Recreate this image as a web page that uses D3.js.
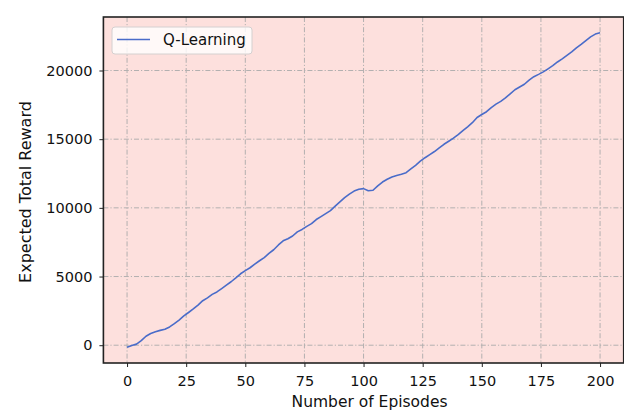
<!DOCTYPE html>
<html>
<head>
<meta charset="utf-8">
<script src="https://cdn.jsdelivr.net/npm/d3@7"></script>
<style>
  html, body { margin: 0; padding: 0; background: #ffffff; }
  svg { display: block; }
  text { font-family: "DejaVu Sans", sans-serif; fill: #111; }
</style>
</head>
<body>
<div id="chart"></div>
<script>
// Cumulative expected reward of a Q-Learning agent, sampled every 2 episodes
const episodes = d3.range(0, 201, 2);
const rewards = [
  -150, -20, 80, 330, 650, 850, 980, 1080, 1160, 1330,
  1570, 1830, 2130, 2380, 2640, 2920, 3240, 3450, 3700, 3880,
  4120, 4370, 4620, 4900, 5200, 5430, 5640, 5900, 6150, 6380,
  6680, 6950, 7300, 7600, 7750, 7950, 8250, 8430, 8650, 8850,
  9150, 9360, 9580, 9800, 10120, 10430, 10740, 11000, 11220, 11350,
  11400, 11250, 11280, 11600, 11880, 12080, 12250, 12360, 12450, 12560,
  12830, 13100, 13400, 13650, 13880, 14100, 14360, 14630, 14850, 15080,
  15330, 15620, 15900, 16200, 16580, 16800, 17000, 17300, 17550, 17750,
  18000, 18300, 18600, 18800, 19000, 19300, 19550, 19720, 19900, 20120,
  20350, 20620, 20850, 21100, 21350, 21640, 21900, 22180, 22450, 22650,
  22750
];
const xTicks = [0, 25, 50, 75, 100, 125, 150, 175, 200];
const yTicks = [0, 5000, 10000, 15000, 20000];
const seriesName = "Q-Learning";
const xTitle = "Number of Episodes";
const yTitle = "Expected Total Reward";

const W = 624, H = 411;
const margin = { left: 103.4, right: 0.3, top: 17, bottom: 48 };
const iw = W - margin.left - margin.right;
const ih = H - margin.top - margin.bottom;

// 5% padding around the data extent on both axes
function padded(ext) {
  const span = ext[1] - ext[0];
  return [ext[0] - span * 0.05, ext[1] + span * 0.05];
}

const data = episodes.map((e, i) => ({ e, r: rewards[i] }));
const x = d3.scaleLinear().domain(padded(d3.extent(episodes))).range([0, iw]);
const y = d3.scaleLinear().domain(padded(d3.extent(rewards))).range([ih, 0]);

const svg = d3.select("#chart").append("svg")
  .attr("width", W).attr("height", H);

const g = svg.append("g").attr("transform", `translate(${margin.left},${margin.top})`);

// plot background
g.append("rect").attr("width", iw).attr("height", ih).attr("fill", "#fde0dd");

// dash-dot grid
const grid = g.append("g").attr("stroke", "#b3b0b0").attr("stroke-width", 1)
  .attr("stroke-dasharray", "5,2,1.2,2");
grid.selectAll(".gx").data(xTicks).join("line")
  .attr("x1", d => x(d)).attr("x2", d => x(d)).attr("y1", 0).attr("y2", ih);
grid.selectAll(".gy").data(yTicks).join("line")
  .attr("y1", d => y(d)).attr("y2", d => y(d)).attr("x1", 0).attr("x2", iw);

// series
const line = d3.line().x(d => x(d.e)).y(d => y(d.r));
g.append("path").datum(data)
  .attr("fill", "none").attr("stroke", "#4a6cc9").attr("stroke-width", 1.6)
  .attr("stroke-linejoin", "round").attr("d", line);

// axes
const xAxis = g.append("g").attr("transform", `translate(0,${ih})`)
  .call(d3.axisBottom(x).tickValues(xTicks).tickSize(4).tickPadding(9).tickFormat(d3.format("d")));
const yAxis = g.append("g")
  .call(d3.axisLeft(y).tickValues(yTicks).tickSize(4).tickPadding(7).tickFormat(d3.format("d")));
[xAxis, yAxis].forEach(a => {
  a.select(".domain").remove();
  a.selectAll(".tick line").attr("stroke", "#222").attr("stroke-width", 1);
  a.selectAll(".tick text").style("font-size", "14.5px").style("font-family", "DejaVu Sans").attr("fill", "#222");
});

// frame
g.append("rect").attr("width", iw).attr("height", ih)
  .attr("fill", "none").attr("stroke", "#222").attr("stroke-width", 1.6);

// axis titles
svg.append("text").attr("x", margin.left + iw / 2 + 6).attr("y", 406.5)
  .attr("text-anchor", "middle").style("font-size", "15.5px").text(xTitle);
svg.append("text").attr("transform", `translate(31,${margin.top + ih / 2 + 2}) rotate(-90)`)
  .attr("text-anchor", "middle").style("font-size", "16px").text(yTitle);

// legend
const lg = svg.append("g").attr("transform", "translate(112,27)");
lg.append("rect").attr("width", 140).attr("height", 27).attr("rx", 3)
  .attr("fill", "#ffffff").attr("fill-opacity", 0.8)
  .attr("stroke", "#d4d0d0").attr("stroke-width", 1);
lg.append("line").attr("x1", 5).attr("x2", 38).attr("y1", 12.5).attr("y2", 12.5)
  .attr("stroke", "#4a6cc9").attr("stroke-width", 1.6);
lg.append("text").attr("x", 51).attr("y", 18).style("font-size", "15px").text(seriesName);
</script>
</body>
</html>
